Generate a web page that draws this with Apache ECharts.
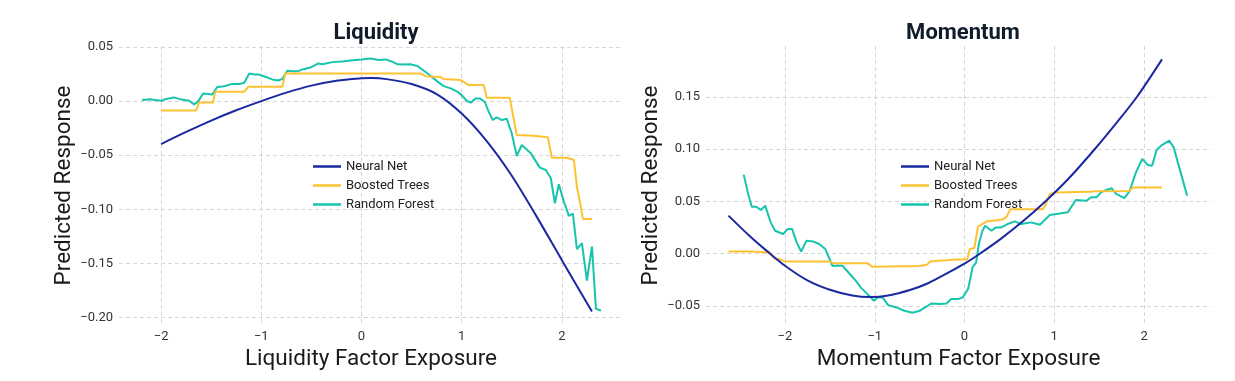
<!DOCTYPE html>
<html>
<head>
<meta charset="utf-8">
<script src="https://cdn.jsdelivr.net/npm/echarts@6/dist/echarts.min.js"></script>
<style>
html,body{margin:0;padding:0;background:#fff;}
#chart{width:1235px;height:381px;}
</style>
</head>
<body>
<div id="chart"></div>
<script>
// ---------- DATA ----------
const seriesNames = ['Neural Net', 'Boosted Trees', 'Random Forest'];
const panelTitles = ['Liquidity', 'Momentum'];
const xAxisTitles = ['Liquidity Factor Exposure', 'Momentum Factor Exposure'];
const yAxisTitle = 'Predicted Response';

const xTicks = [-2, -1, 0, 1, 2];
const liqYTicks = [-0.20, -0.15, -0.10, -0.05, 0.00, 0.05];
const momYTicks = [-0.05, 0.00, 0.05, 0.10, 0.15];

// Liquidity panel
const liqNeuralNet = [
  [-2.0,-0.0397],[-1.75,-0.0285],[-1.5,-0.018],[-1.25,-0.0085],[-1.0,0.0],[-0.75,0.0078],
  [-0.5,0.0143],[-0.25,0.0188],[0.0,0.021],[0.1,0.0213],[0.25,0.0203],[0.5,0.0158],
  [0.75,0.0065],[1.0,-0.0115],[1.25,-0.037],[1.5,-0.069],[1.75,-0.107],[2.0,-0.147],[2.3,-0.1944]
];
const liqBoostedTrees = [
  [-2.0,-0.0086],[-1.65,-0.0086],[-1.62,-0.0012],[-1.48,-0.0012],[-1.46,0.0086],[-1.17,0.0086],
  [-1.13,0.0132],[-0.79,0.0132],[-0.76,0.0255],[0.59,0.0255],[0.64,0.023],[0.79,0.0222],
  [0.82,0.0203],[0.99,0.0194],[1.07,0.0148],[1.22,0.0148],[1.25,0.003],[1.48,0.003],
  [1.55,-0.0314],[1.72,-0.032],[1.86,-0.0335],[1.90,-0.0523],[2.05,-0.0523],[2.12,-0.0544],
  [2.15,-0.079],[2.18,-0.093],[2.21,-0.1089],[2.30,-0.1089]
];
const liqRandomForest = [
  [-2.19,0.001],[-2.11,0.0016],[-2.0,0.0003],[-1.95,0.002],[-1.87,0.0034],[-1.81,0.0016],
  [-1.72,0.0003],[-1.67,-0.003],[-1.63,-0.0003],[-1.58,0.007],[-1.53,0.0065],[-1.49,0.006],
  [-1.44,0.013],[-1.39,0.0135],[-1.36,0.014],[-1.30,0.0157],[-1.22,0.0157],[-1.17,0.017],
  [-1.12,0.0255],[-1.07,0.0245],[-1.02,0.0245],[-0.96,0.0225],[-0.89,0.020],[-0.83,0.019],
  [-0.79,0.0205],[-0.74,0.028],[-0.69,0.0275],[-0.64,0.0275],[-0.58,0.0295],[-0.51,0.031],
  [-0.43,0.0348],[-0.39,0.034],[-0.29,0.036],[-0.19,0.0365],[-0.09,0.0378],[0.0,0.0385],
  [0.09,0.0394],[0.17,0.038],[0.24,0.0385],[0.31,0.0363],[0.36,0.034],[0.42,0.0337],
  [0.49,0.034],[0.56,0.0323],[0.61,0.029],[0.66,0.0255],[0.71,0.0218],[0.76,0.018],
  [0.82,0.0138],[0.89,0.0117],[0.96,0.0086],[1.0,0.0055],[1.05,0.0003],[1.09,-0.0015],
  [1.14,0.0025],[1.18,0.0025],[1.23,-0.0006],[1.27,-0.0099],[1.31,-0.0175],[1.35,-0.015],
  [1.40,-0.0175],[1.45,-0.0163],[1.50,-0.030],[1.55,-0.0507],[1.60,-0.0406],[1.69,-0.0483],
  [1.78,-0.0615],[1.84,-0.0637],[1.89,-0.0713],[1.93,-0.0944],[1.97,-0.0769],[2.02,-0.0929],
  [2.07,-0.106],[2.11,-0.104],[2.15,-0.1368],[2.20,-0.1313],[2.25,-0.1658],[2.30,-0.1344],
  [2.34,-0.192],[2.39,-0.1935]
];

// Momentum panel
const momNeuralNet = [
  [-2.63,0.0365],[-2.4,0.0175],[-2.2,0.0025],[-2.0,-0.0115],[-1.75,-0.0255],[-1.5,-0.0345],
  [-1.25,-0.040],[-1.05,-0.0415],[-0.85,-0.040],[-0.6,-0.0345],[-0.4,-0.028],[-0.2,-0.019],
  [0.0,-0.0095],[0.17,0.0],[0.4,0.014],[0.65,0.031],[0.9,0.050],[1.15,0.071],[1.45,0.100],
  [1.7,0.126],[1.92,0.150],[2.2,0.186]
];
const momBoostedTrees = [
  [-2.63,0.0022],[-2.38,0.0022],[-2.36,0.0013],[-2.17,0.0013],[-2.12,-0.0045],[-2.05,-0.0055],
  [-2.0,-0.0075],[-1.5,-0.0075],[-1.46,-0.009],[-1.08,-0.009],[-1.03,-0.0125],[-0.5,-0.0118],
  [-0.42,-0.0105],[-0.38,-0.0075],[-0.3,-0.0068],[-0.2,-0.0062],[-0.1,-0.0055],[0.03,-0.0055],
  [0.06,0.0045],[0.11,0.0055],[0.15,0.026],[0.2,0.0285],[0.25,0.031],[0.37,0.032],[0.43,0.033],
  [0.47,0.0355],[0.51,0.0425],[0.87,0.0425],[0.9,0.046],[0.95,0.057],[1.0,0.0587],[1.4,0.0592],
  [1.45,0.0597],[1.83,0.060],[1.88,0.0635],[2.2,0.0635]
];
const momRandomForest = [
  [-2.46,0.0757],[-2.41,0.0572],[-2.37,0.045],[-2.32,0.045],[-2.27,0.0418],[-2.22,0.046],
  [-2.16,0.030],[-2.11,0.022],[-2.02,0.0189],[-1.97,0.0236],[-1.92,0.0236],[-1.87,0.0109],
  [-1.82,0.0022],[-1.76,0.0125],[-1.69,0.0118],[-1.62,0.0093],[-1.55,0.0045],[-1.47,-0.0118],
  [-1.41,-0.0112],[-1.36,-0.0115],[-1.26,-0.0211],[-1.21,-0.0259],[-1.15,-0.0329],[-1.10,-0.037],
  [-1.01,-0.045],[-0.97,-0.0418],[-0.91,-0.042],[-0.85,-0.0492],[-0.76,-0.0514],[-0.67,-0.0546],
  [-0.58,-0.0565],[-0.50,-0.0546],[-0.37,-0.0476],[-0.28,-0.0482],[-0.20,-0.0476],[-0.15,-0.0434],
  [-0.07,-0.0434],[-0.02,-0.0418],[0.04,-0.0338],[0.09,-0.0131],[0.13,-0.0083],[0.16,0.0093],
  [0.20,0.022],[0.23,0.0268],[0.30,0.022],[0.35,0.0252],[0.41,0.0252],[0.48,0.0284],[0.56,0.031],
  [0.63,0.0284],[0.74,0.030],[0.84,0.0278],[0.95,0.037],[1.06,0.0386],[1.15,0.0396],[1.24,0.0514],
  [1.36,0.0508],[1.41,0.054],[1.47,0.054],[1.52,0.0587],[1.58,0.061],[1.64,0.0626],[1.69,0.0572],
  [1.78,0.0533],[1.84,0.060],[1.91,0.0779],[1.98,0.0907],[2.04,0.085],[2.09,0.0843],[2.14,0.0993],
  [2.19,0.1034],[2.28,0.1082],[2.33,0.1018],[2.48,0.0556]
];

// ---------- STYLE ----------
const colors = ['#1a29a2', '#fdc231', '#17c4ad'];
const FONT = 'Roboto';
const gridLine = {show: true, lineStyle: {color: '#d6d6d6', type: [4, 3], width: 1}};

function fmtY(v){ return (v < 0 ? '\u2212' : '') + Math.abs(v).toFixed(2); }
function fmtX(v){ return (v < 0 ? '\u2212' : '') + Math.abs(v); }

function xAx(idx, min, max, name){
  return {
    type: 'value', gridIndex: idx, min: min, max: max,
    name: name, nameLocation: 'middle', nameGap: 18,
    nameTextStyle: {fontFamily: FONT, fontSize: 22.5, color: '#1a1a1a', verticalAlign: 'top'},
    axisLine: {show: false},
    axisTick: {show: false, customValues: xTicks},
    axisLabel: {customValues: xTicks, formatter: fmtX, fontFamily: FONT, fontSize: 13, color: '#333', margin: 5},
    splitLine: gridLine
  };
}
function yAx(idx, min, max, ticks){
  return {
    type: 'value', gridIndex: idx, min: min, max: max,
    name: yAxisTitle, nameLocation: 'middle', nameGap: 41, nameRotate: 90,
    nameTextStyle: {fontFamily: FONT, fontSize: 22.5, color: '#1a1a1a'},
    axisLine: {show: false},
    axisTick: {show: false, customValues: ticks},
    axisLabel: {customValues: ticks, formatter: fmtY, fontFamily: FONT, fontSize: 13, color: '#333', margin: 6},
    splitLine: gridLine
  };
}
function line(name, data, idx, ci){
  return {
    type: 'line', name: name, data: data, xAxisIndex: idx, yAxisIndex: idx,
    symbol: 'none', showSymbol: false, smooth: ci === 0 ? 0.3 : false,
    lineStyle: {color: colors[ci], width: 2}, itemStyle: {color: colors[ci]},
    z: 3 - ci, animation: false
  };
}
function legend(left){
  return {
    orient: 'vertical', left: left, top: 155, data: seriesNames,
    icon: 'rect', itemWidth: 28, itemHeight: 2.5, itemGap: 6,
    textStyle: {fontFamily: FONT, fontSize: 13, color: '#222'},
    selectedMode: false
  };
}

const chart = echarts.init(document.getElementById('chart'), null, {renderer: 'canvas'});
chart.setOption({
  backgroundColor: '#fff',
  animation: false,
  title: [
    {text: panelTitles[0], left: 371, top: 17, textAlign: 'center',
     textStyle: {fontFamily: FONT, fontSize: 22, fontWeight: 'bold', color: '#101c2c'}},
    {text: panelTitles[1], left: 958, top: 17, textAlign: 'center',
     textStyle: {fontFamily: FONT, fontSize: 22, fontWeight: 'bold', color: '#101c2c'}}
  ],
  legend: [legend(308), legend(896)],
  grid: [
    {left: 119, right: 612, top: 46, bottom: 56},
    {left: 706, right: 24, top: 46, bottom: 56}
  ],
  xAxis: [xAx(0, -2.42, 2.61, xAxisTitles[0]), xAx(1, -2.88, 2.746, xAxisTitles[1])],
  yAxis: [yAx(0, -0.2069, 0.0509, liqYTicks), yAx(1, -0.0682, 0.1988, momYTicks)],
  series: [
    line(seriesNames[0], liqNeuralNet, 0, 0),
    line(seriesNames[1], liqBoostedTrees, 0, 1),
    line(seriesNames[2], liqRandomForest, 0, 2),
    line(seriesNames[0], momNeuralNet, 1, 0),
    line(seriesNames[1], momBoostedTrees, 1, 1),
    line(seriesNames[2], momRandomForest, 1, 2)
  ]
});
</script>
</body>
</html>
